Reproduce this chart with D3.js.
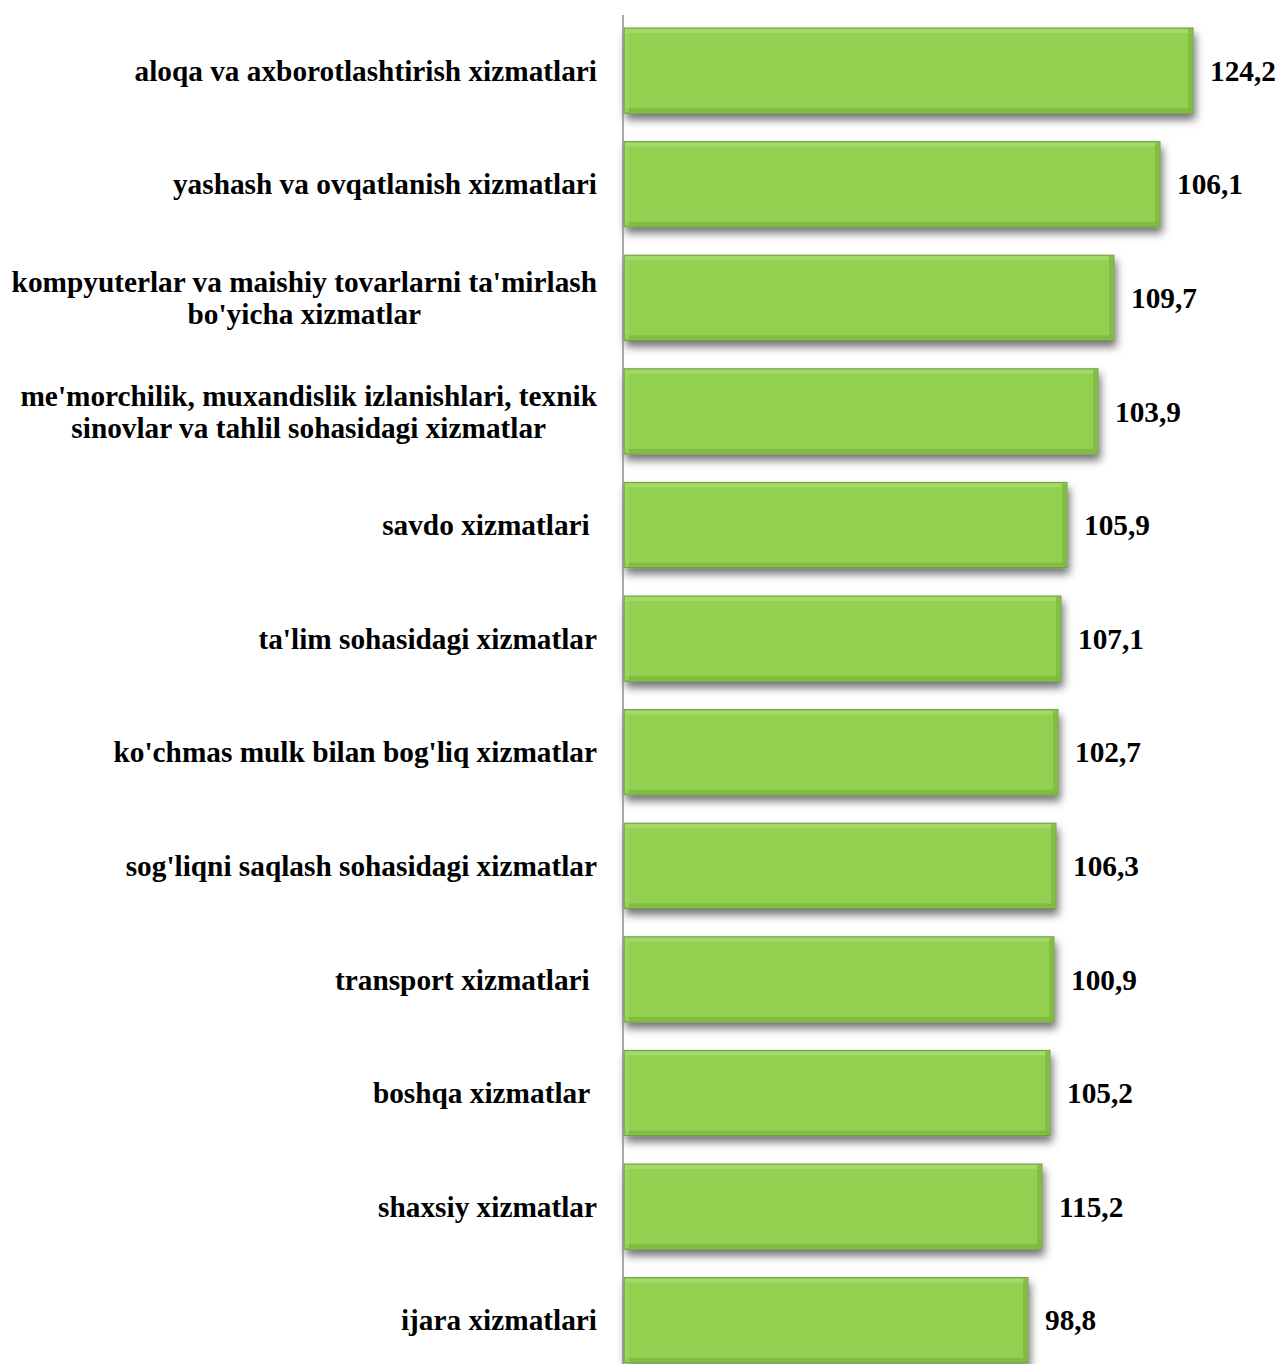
<!DOCTYPE html>
<html>
<head>
<meta charset="utf-8">
<script src="https://cdn.jsdelivr.net/npm/d3@7"></script>
<style>
  html, body { margin: 0; padding: 0; background: #fff; }
  svg { display: block; }
  text { font-family: "Liberation Serif", "Times New Roman", serif; font-weight: bold; fill: #000; }
</style>
</head>
<body>
<div id="chart"></div>
<script>
// ---- data ----
const categories = [
  ["aloqa va axborotlashtirish xizmatlari"],
  ["yashash va ovqatlanish xizmatlari"],
  ["kompyuterlar va maishiy tovarlarni ta'mirlash", "bo'yicha xizmatlar"],
  ["me'morchilik, muxandislik izlanishlari, texnik", "sinovlar va tahlil sohasidagi xizmatlar"],
  ["savdo xizmatlari "],
  ["ta'lim sohasidagi xizmatlar"],
  ["ko'chmas mulk bilan bog'liq xizmatlar"],
  ["sog'liqni saqlash sohasidagi xizmatlar"],
  ["transport xizmatlari "],
  ["boshqa xizmatlar "],
  ["shaxsiy xizmatlar"],
  ["ijara xizmatlari"]
];
// bar lengths (relative units, as drawn)
const barValues = [569, 536, 490, 474, 443, 437, 434, 432, 430, 426, 418, 404];
// value labels shown at bar ends
const valueLabels = ["124,2", "106,1", "109,7", "103,9", "105,9", "107,1", "102,7", "106,3", "100,9", "105,2", "115,2", "98,8"];

// ---- layout ----
const W = 1278, H = 1364;
const axisX = 624;
const FS = 29.3;
const svg = d3.select("#chart").append("svg").attr("width", W).attr("height", H);

const defs = svg.append("defs");
const f = defs.append("filter").attr("id", "shadow").attr("x", "-5%").attr("y", "-20%").attr("width", "115%").attr("height", "160%");
f.append("feDropShadow").attr("dx", 2).attr("dy", 6).attr("stdDeviation", 4)
  .attr("flood-color", "#000").attr("flood-opacity", 0.55);

const idx = d3.range(categories.length);
const step = 113.6;
const y = d3.scaleBand().domain(idx)
  .range([28, 28 + step * 12 - step * 0.25])
  .paddingInner(0.25).paddingOuter(0);
const x = d3.scaleLinear().domain([0, 600]).range([axisX, axisX + 600]);

const g = svg.append("g");
const bars = g.selectAll("g.bar").data(idx).enter().append("g").attr("class", "bar");

bars.append("rect")
  .attr("x", x(0))
  .attr("y", i => y(i))
  .attr("width", i => x(barValues[i]) - x(0))
  .attr("height", y.bandwidth())
  .attr("fill", "#92D050")
  .attr("stroke", "#6f9a3c")
  .attr("stroke-width", 1)
  .attr("filter", "url(#shadow)");

// bevel highlights
const bev = 4;
bars.append("rect")
  .attr("x", x(0) + 1).attr("y", i => y(i) + 1)
  .attr("width", i => x(barValues[i]) - x(0) - 2).attr("height", bev)
  .attr("fill", "#a9dc72").attr("opacity", 0.8);
bars.append("rect")
  .attr("x", x(0) + 1).attr("y", i => y(i) + y.bandwidth() - bev - 1)
  .attr("width", i => x(barValues[i]) - x(0) - 2).attr("height", bev)
  .attr("fill", "#7cb53e").attr("opacity", 0.8);
bars.append("rect")
  .attr("x", i => x(barValues[i]) - bev - 1).attr("y", i => y(i) + 1)
  .attr("width", bev).attr("height", y.bandwidth() - 2)
  .attr("fill", "#7fb842").attr("opacity", 0.8);
bars.append("rect")
  .attr("x", x(0) + 1).attr("y", i => y(i) + 1)
  .attr("width", bev).attr("height", y.bandwidth() - 2)
  .attr("fill", "#a4d86a").attr("opacity", 0.6);

// value labels
bars.append("text")
  .attr("x", i => x(barValues[i]) + 17)
  .attr("y", i => y(i) + y.bandwidth() / 2)
  .attr("dy", "0.35em")
  .style("font-size", FS + "px")
  .text(i => valueLabels[i]);

// axis line
svg.append("line").attr("x1", axisX - 1).attr("x2", axisX - 1).attr("y1", 15).attr("y2", H)
  .attr("stroke", "#8c8c8c").attr("stroke-width", 1.5);

// category labels
const labelRight = 597;
const lineH = 32;
idx.forEach(i => {
  const lines = categories[i];
  const cy = y(i) + y.bandwidth() / 2;
  const tg = svg.append("g");
  const texts = lines.map((ln, k) => tg.append("text")
    .attr("xml:space", "preserve")
    .style("white-space", "pre")
    .style("font-size", FS + "px")
    .attr("y", cy + (k - (lines.length - 1) / 2) * lineH)
    .attr("dy", "0.35em")
    .text(ln));
  const widths = texts.map(t => t.node().getComputedTextLength());
  const maxW = d3.max(widths);
  const center = labelRight - maxW / 2;
  texts.forEach(t => t.attr("x", center).attr("text-anchor", "middle"));
});
</script>
</body>
</html>
